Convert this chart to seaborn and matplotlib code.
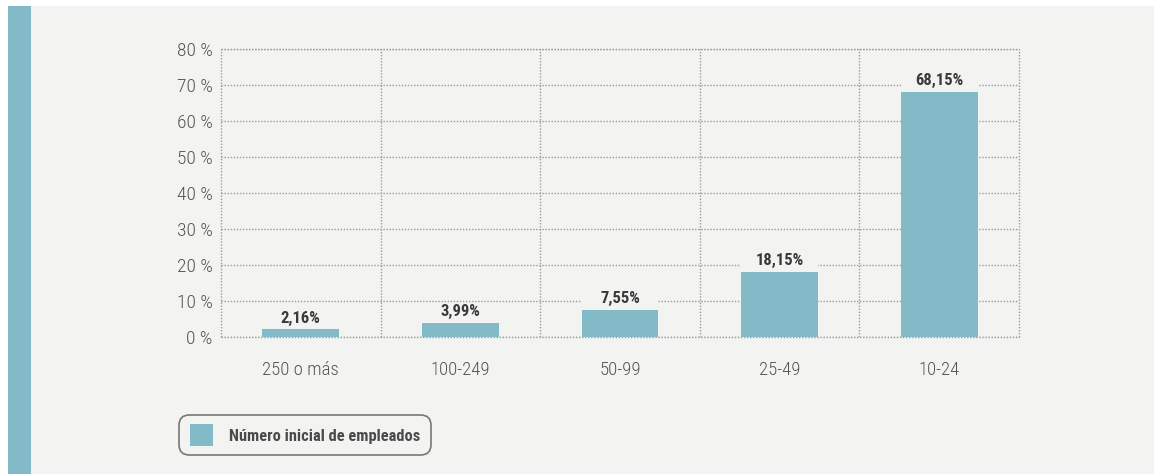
import matplotlib
matplotlib.use("Agg")
import matplotlib.pyplot as plt
from matplotlib.patches import Rectangle, FancyBboxPatch
import seaborn as sns
import pandas as pd

categories = ["250 o más", "100-249", "50-99", "25-49", "10-24"]
values = [2.16, 3.99, 7.55, 18.15, 68.15]
value_labels = ["2,16%", "3,99%", "7,55%", "18,15%", "68,15%"]
y_ticks = [0, 10, 20, 30, 40, 50, 60, 70, 80]
y_tick_labels = [f"{t} %" for t in y_ticks]
series_name = "Número inicial de empleados"

BAR = "#83bac8"
BG = "#f3f3f2"
GRID = "#9a9a9a"
TEXT = "#555555"

sns.set_theme(style="white")
plt.rcParams["font.family"] = ["Roboto Condensed", "Roboto", "DejaVu Sans"]

df = pd.DataFrame({"cat": categories, "val": values})

fig = plt.figure(figsize=(11.54, 4.74), dpi=100)
fig.patch.set_facecolor("white")
# panel background and accent strip
fig.patches.append(Rectangle((31 / 1154, 0), 1 - 31 / 1154, 1 - 6 / 474,
                             transform=fig.transFigure, facecolor=BG, edgecolor="none", zorder=-2))
fig.patches.append(Rectangle((8 / 1154, 0), 23 / 1154, 1 - 6 / 474,
                             transform=fig.transFigure, facecolor=BAR, edgecolor="none", zorder=-2))

ax = fig.add_axes([221 / 1154, 1 - 337 / 474, (1019 - 221) / 1154, (337 - 49) / 474])
ax.set_facecolor(BG)
sns.barplot(data=df, x="cat", y="val", color=BAR, width=0.48, saturation=1,
            linewidth=0, ax=ax, zorder=3)

ax.set_xlim(-0.5, len(categories) - 0.5)
ax.set_ylim(0, 80)
ax.set_yticks(y_ticks)
ax.set_yticklabels(y_tick_labels, fontsize=14, color=TEXT, fontweight="light")
for t in ax.get_xticklabels():
    t.set_fontweight("light")
ax.tick_params(axis="x", labelsize=13.5, colors=TEXT, pad=17, length=0)
ax.tick_params(axis="y", pad=6, length=0)
ax.set_xlabel("")
ax.set_ylabel("")

dots = (0, (1, 1.2))
ax.set_xticks([i + 0.5 for i in range(len(categories) - 1)], minor=True)
ax.grid(True, axis="y", which="major", color=GRID, linestyle=dots, linewidth=1, zorder=0)
ax.grid(True, axis="x", which="minor", color=GRID, linestyle=dots, linewidth=1, zorder=0)
ax.grid(False, axis="x", which="major")
ax.tick_params(which="minor", length=0)
for s in ax.spines.values():
    s.set_visible(True)
    s.set_color(GRID)
    s.set_linestyle(dots)
    s.set_capstyle("butt")
    s.set_linewidth(1)

# value labels sit on a bar-wide strip of background that hides the grid
ax_h_px = ax.get_position().height * fig.get_figheight() * fig.dpi
strip_h = 17 / ax_h_px * (ax.get_ylim()[1] - ax.get_ylim()[0])
for p, v, lab in zip(ax.patches, values, value_labels):
    ax.add_patch(Rectangle((p.get_x(), v), p.get_width(), strip_h,
                           facecolor=BG, edgecolor="none", zorder=2))
    ax.annotate(lab, (p.get_x() + p.get_width() / 2, v), xytext=(0, 2.5),
                textcoords="offset points", ha="center", va="bottom",
                fontsize=12, fontweight="bold", color="#3a3a3a", zorder=4)

# legend box
fig.patches.append(FancyBboxPatch((179 / 1154, 1 - 455 / 474), (431 - 179) / 1154, 40 / 474,
                                  boxstyle="round,pad=0,rounding_size=0.009",
                                  transform=fig.transFigure, facecolor=BG, edgecolor="#777777",
                                  linewidth=1.2, mutation_aspect=1154 / 474))
fig.patches.append(Rectangle((190 / 1154, 1 - 446 / 474), 23 / 1154, 22 / 474,
                             transform=fig.transFigure, facecolor=BAR, edgecolor="none"))
fig.text(229 / 1154, 1 - 436 / 474, series_name, fontsize=11.8, fontweight="bold",
         color="#4a4a4a", va="center", ha="left")

fig.savefig("out.png", dpi=100, facecolor=fig.get_facecolor())
